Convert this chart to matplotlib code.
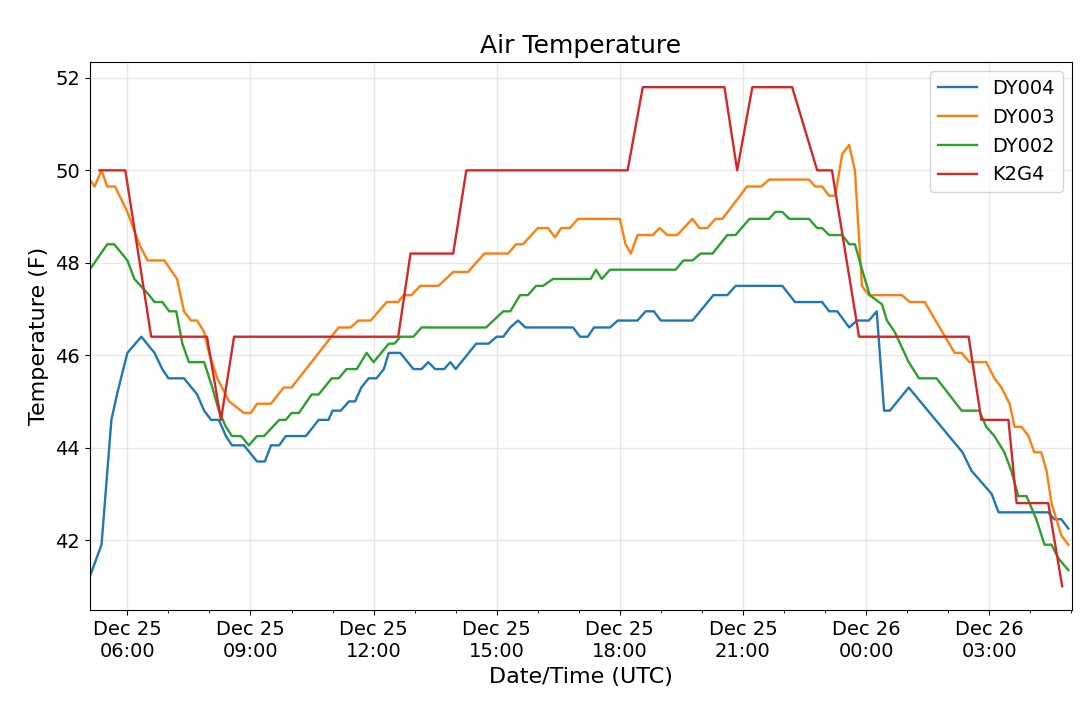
import matplotlib
matplotlib.use("Agg")
import matplotlib.pyplot as plt
import matplotlib.dates as mdates
import numpy as np
from datetime import datetime, timedelta

# hours since Dec 25 00:00 UTC, temperatures (F)
dy004_h = [5.08, 5.37, 5.61, 5.76, 6.0, 6.34, 6.66, 6.85, 7.0, 7.38, 7.7, 7.87, 8.04, 8.23, 8.4, 8.55, 8.84, 9.16, 9.35, 9.5, 9.7, 9.86, 10.35, 10.66, 10.9, 11.0, 11.2, 11.4, 11.55, 11.7, 11.88, 12.07, 12.25, 12.37, 12.65, 12.97, 13.17, 13.33, 13.5, 13.72, 13.87, 14.0, 14.5, 14.8, 15.0, 15.16, 15.33, 15.52, 15.7, 16.86, 17.03, 17.22, 17.37, 17.76, 17.95, 18.43, 18.63, 18.83, 19.0, 19.77, 20.28, 20.62, 20.82, 21.96, 22.27, 22.93, 23.1, 23.3, 23.59, 23.78, 24.07, 24.26, 24.44, 24.58, 25.04, 26.35, 26.57, 27.06, 27.23, 28.44, 28.59, 28.76, 28.93]
dy004_t = [41.2, 41.9, 44.6, 45.2, 46.05, 46.4, 46.05, 45.7, 45.5, 45.5, 45.15, 44.8, 44.6, 44.6, 44.25, 44.05, 44.05, 43.7, 43.7, 44.05, 44.05, 44.25, 44.25, 44.6, 44.6, 44.8, 44.8, 45.0, 45.0, 45.3, 45.5, 45.5, 45.7, 46.05, 46.05, 45.7, 45.7, 45.85, 45.7, 45.7, 45.85, 45.7, 46.25, 46.25, 46.4, 46.4, 46.6, 46.75, 46.6, 46.6, 46.4, 46.4, 46.6, 46.6, 46.75, 46.75, 46.95, 46.95, 46.75, 46.75, 47.3, 47.3, 47.5, 47.5, 47.15, 47.15, 46.95, 46.95, 46.6, 46.75, 46.75, 46.95, 44.8, 44.8, 45.3, 43.9, 43.5, 43.0, 42.6, 42.6, 42.45, 42.45, 42.25]

dy003_h = [5.08, 5.2, 5.37, 5.51, 5.7, 6.0, 6.29, 6.49, 6.9, 7.21, 7.38, 7.55, 7.7, 7.87, 7.99, 8.19, 8.48, 8.84, 9.01, 9.16, 9.5, 9.81, 10.0, 11.15, 11.44, 11.63, 11.93, 12.32, 12.6, 12.73, 12.92, 13.14, 13.58, 13.94, 14.3, 14.5, 14.7, 15.28, 15.47, 15.64, 16.0, 16.25, 16.42, 16.57, 16.78, 16.98, 18.0, 18.14, 18.27, 18.43, 18.8, 18.97, 19.16, 19.4, 19.77, 19.94, 20.13, 20.33, 20.5, 21.1, 21.45, 21.64, 22.61, 22.76, 22.93, 23.1, 23.25, 23.42, 23.59, 23.73, 23.9, 24.07, 24.87, 25.07, 25.43, 26.16, 26.33, 26.52, 26.93, 27.13, 27.3, 27.5, 27.62, 27.79, 27.96, 28.1, 28.27, 28.4, 28.52, 28.64, 28.76, 28.93]
dy003_t = [49.8, 49.65, 50.0, 49.65, 49.65, 49.1, 48.4, 48.05, 48.05, 47.65, 46.95, 46.75, 46.75, 46.5, 46.05, 45.5, 45.0, 44.75, 44.75, 44.95, 44.95, 45.3, 45.3, 46.6, 46.6, 46.75, 46.75, 47.15, 47.15, 47.3, 47.3, 47.5, 47.5, 47.8, 47.8, 48.0, 48.2, 48.2, 48.4, 48.4, 48.75, 48.75, 48.55, 48.75, 48.75, 48.95, 48.95, 48.4, 48.2, 48.6, 48.6, 48.75, 48.6, 48.6, 48.95, 48.75, 48.75, 48.95, 48.95, 49.65, 49.65, 49.8, 49.8, 49.65, 49.65, 49.45, 49.45, 50.35, 50.55, 50.0, 47.5, 47.3, 47.3, 47.15, 47.15, 46.05, 46.05, 45.85, 45.85, 45.5, 45.3, 44.95, 44.45, 44.45, 44.25, 43.9, 43.9, 43.5, 42.8, 42.45, 42.1, 41.9]

dy002_h = [5.08, 5.51, 5.68, 6.0, 6.17, 6.53, 6.66, 6.85, 7.02, 7.19, 7.34, 7.5, 7.87, 8.07, 8.23, 8.4, 8.55, 8.77, 8.96, 9.16, 9.33, 9.7, 9.86, 10.0, 10.18, 10.49, 10.66, 10.98, 11.15, 11.34, 11.59, 11.83, 12.0, 12.37, 12.51, 12.65, 12.97, 13.17, 14.74, 15.16, 15.33, 15.57, 15.76, 15.96, 16.13, 16.37, 17.29, 17.42, 17.56, 17.76, 19.36, 19.55, 19.77, 19.97, 20.26, 20.62, 20.82, 21.16, 21.64, 21.79, 21.96, 22.13, 22.61, 22.81, 22.93, 23.1, 23.42, 23.59, 23.73, 23.92, 24.09, 24.39, 24.51, 24.7, 25.04, 25.29, 25.72, 26.33, 26.76, 26.93, 27.13, 27.37, 27.54, 27.71, 27.91, 28.15, 28.35, 28.52, 28.69, 28.93]
dy002_t = [47.85, 48.4, 48.4, 48.05, 47.65, 47.3, 47.15, 47.15, 46.95, 46.95, 46.25, 45.85, 45.85, 45.3, 44.8, 44.45, 44.25, 44.25, 44.05, 44.25, 44.25, 44.6, 44.6, 44.75, 44.75, 45.15, 45.15, 45.5, 45.5, 45.7, 45.7, 46.05, 45.85, 46.25, 46.25, 46.4, 46.4, 46.6, 46.6, 46.95, 46.95, 47.3, 47.3, 47.5, 47.5, 47.65, 47.65, 47.85, 47.65, 47.85, 47.85, 48.05, 48.05, 48.2, 48.2, 48.6, 48.6, 48.95, 48.95, 49.1, 49.1, 48.95, 48.95, 48.75, 48.75, 48.6, 48.6, 48.4, 48.4, 47.8, 47.3, 47.1, 46.75, 46.5, 45.85, 45.5, 45.5, 44.8, 44.8, 44.45, 44.25, 43.9, 43.5, 42.95, 42.95, 42.45, 41.9, 41.9, 41.6, 41.35]

k2g4_h = [5.32, 5.95, 6.58, 7.94, 8.28, 8.6, 12.6, 12.9, 13.94, 14.26, 18.19, 18.56, 20.55, 20.86, 21.23, 22.2, 22.81, 23.17, 23.83, 26.5, 26.81, 27.47, 27.67, 28.44, 28.78]
k2g4_t = [50.0, 50.0, 46.4, 46.4, 44.6, 46.4, 46.4, 48.2, 48.2, 50.0, 50.0, 51.8, 51.8, 50.0, 51.8, 51.8, 50.0, 50.0, 46.4, 46.4, 44.6, 44.6, 42.8, 42.8, 41.0]

base = datetime(2019, 12, 25)
def to_dt(hours):
    return [base + timedelta(hours=h) for h in hours]

fig = plt.figure(figsize=(10.8, 7.18), dpi=100)
ax = fig.add_axes([0.083, 0.150, 0.910, 0.764])

ax.plot(to_dt(dy004_h), dy004_t, color='#1f77b4', lw=1.7, label='DY004')
ax.plot(to_dt(dy003_h), dy003_t, color='#ff7f0e', lw=1.7, label='DY003')
ax.plot(to_dt(dy002_h), dy002_t, color='#2ca02c', lw=1.7, label='DY002')
ax.plot(to_dt(k2g4_h), k2g4_t, color='#d62728', lw=1.7, label='K2G4')

ax.set_xlim(base + timedelta(hours=5.08), base + timedelta(hours=29.03))
ax.set_ylim(40.48, 52.35)
ax.set_yticks([42, 44, 46, 48, 50, 52])
ax.xaxis.set_major_locator(mdates.HourLocator(byhour=[0, 3, 6, 9, 12, 15, 18, 21]))
ax.xaxis.set_minor_locator(mdates.HourLocator())
ax.xaxis.set_major_formatter(mdates.DateFormatter('%b %d\n%H:%M'))
ax.grid(True, color='#dddddd', lw=1, alpha=0.7)
ax.tick_params(labelsize=14)

ax.set_title('Air Temperature', fontsize=18)
ax.set_xlabel('Date/Time (UTC)', fontsize=16)
ax.set_ylabel('Temperature (F)', fontsize=16)
ax.legend(loc='upper right', fontsize=14)

fig.savefig('out.png', dpi=100)
